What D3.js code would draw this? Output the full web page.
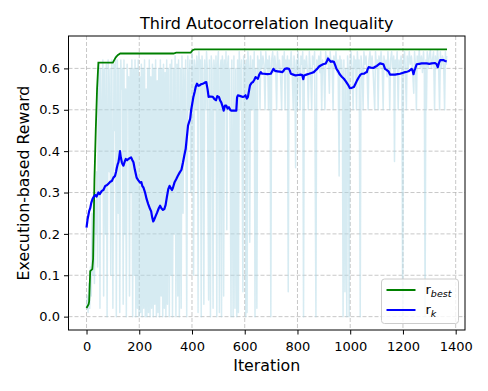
<!DOCTYPE html>
<html>
<head>
<meta charset="utf-8">
<script src="https://cdn.jsdelivr.net/npm/d3@7"></script>
<style>
body { margin: 0; background: #fff; }
text { font-family: "DejaVu Sans", sans-serif; }
</style>
</head>
<body>
<div id="chart"></div>
<script>
// tick labels
var xTicks = [0, 200, 400, 600, 800, 1000, 1200, 1400];
var yTicks = [0.0, 0.1, 0.2, 0.3, 0.4, 0.5, 0.6];

// r_best : best reward so far  [iteration, reward]
var bestReward = [[0,0.021],[8,0.03],[10,0.037],[14,0.11],[22,0.115],[25,0.14],[30,0.33],[35,0.45],[40,0.55],[45,0.614],
  [100,0.614],[105,0.62],[110,0.626],[118,0.632],[128,0.636],[330,0.636],[340,0.638],[395,0.638],[402,0.644],[410,0.646],[1367,0.646]];

// r_k : smoothed reward  [iteration, reward]
var smoothReward = [[0,0.215],[4,0.235],[7,0.245],[10,0.255],[14,0.262],[18,0.275],[23,0.285],[28,0.29],[33,0.294],[38,0.29],[45,0.30],[50,0.296],
  [58,0.304],[64,0.306],[71,0.316],[78,0.318],[84,0.322],[90,0.326],[96,0.328],[102,0.336],[108,0.34],[112,0.35],[115,0.36],[118,0.368],
  [121,0.373],[124,0.385],[127,0.40],[130,0.385],[134,0.373],[137,0.368],[140,0.365],[145,0.375],[149,0.381],[154,0.378],[159,0.381],
  [164,0.383],[169,0.385],[174,0.378],[178,0.373],[183,0.356],[187,0.345],[190,0.336],[196,0.33],[203,0.324],[208,0.325],[212,0.315],
  [216,0.312],[222,0.30],[228,0.284],[234,0.272],[241,0.26],[245,0.255],[249,0.24],[253,0.23],[257,0.235],[262,0.243],[268,0.252],
  [274,0.262],[279,0.268],[284,0.262],[290,0.258],[295,0.26],[300,0.27],[305,0.29],[310,0.308],[315,0.316],[320,0.31],[324,0.306],
  [328,0.312],[334,0.325],[340,0.332],[346,0.34],[353,0.348],[360,0.355],[366,0.373],[371,0.39],[376,0.405],[380,0.43],[385,0.462],
  [389,0.47],[393,0.478],[397,0.5],[401,0.515],[405,0.53],[410,0.543],[414,0.555],[419,0.563],[424,0.558],[429,0.559],[435,0.562],
  [441,0.563],[447,0.565],[454,0.567],[459,0.55],[463,0.531],[470,0.532],[479,0.531],[485,0.526],[491,0.523],[496,0.533],[502,0.531],
  [507,0.522],[511,0.518],[516,0.508],[520,0.498],[525,0.51],[530,0.51],[535,0.503],[540,0.506],[545,0.5],[549,0.498],[560,0.498],
  [568,0.498],[571,0.53],[574,0.535],[584,0.533],[593,0.531],[598,0.532],[603,0.535],[608,0.527],[612,0.531],[616,0.545],[620,0.559],
  [626,0.565],[631,0.567],[636,0.572],[641,0.579],[645,0.577],[650,0.575],[655,0.585],[661,0.591],[666,0.587],[673,0.587],[686,0.586],
  [699,0.587],[704,0.593],[709,0.599],[715,0.594],[724,0.593],[733,0.592],[743,0.591],[748,0.595],[752,0.599],[760,0.6],[768,0.599],
  [772,0.593],[775,0.587],[784,0.585],[793,0.583],[803,0.584],[812,0.585],[818,0.584],[822,0.574],[825,0.583],[834,0.585],[844,0.587],
  [853,0.589],[862,0.591],[868,0.595],[875,0.599],[881,0.604],[888,0.607],[897,0.61],[907,0.612],[912,0.618],[916,0.624],[921,0.62],
  [926,0.616],[932,0.617],[938,0.616],[943,0.608],[948,0.599],[955,0.592],[961,0.585],[968,0.58],[976,0.575],[982,0.57],[989,0.563],
  [994,0.558],[999,0.552],[1006,0.553],[1014,0.555],[1020,0.563],[1026,0.571],[1032,0.578],[1039,0.585],[1045,0.587],[1052,0.587],
  [1058,0.59],[1063,0.591],[1066,0.598],[1070,0.603],[1078,0.602],[1088,0.601],[1095,0.604],[1101,0.606],[1107,0.609],[1113,0.612],
  [1120,0.611],[1126,0.61],[1132,0.599],[1139,0.596],[1145,0.593],[1151,0.585],[1160,0.585],[1170,0.585],[1180,0.586],[1189,0.587],
  [1198,0.589],[1208,0.591],[1215,0.592],[1221,0.593],[1227,0.596],[1233,0.599],[1237,0.594],[1240,0.586],[1243,0.594],[1246,0.599],
  [1252,0.61],[1262,0.611],[1271,0.612],[1280,0.612],[1290,0.612],[1300,0.611],[1309,0.612],[1322,0.613],[1328,0.61],[1332,0.603],
  [1336,0.612],[1341,0.62],[1348,0.62],[1353,0.62],[1360,0.618],[1366,0.617]];

// raw reward per iteration (light blue)  [iteration, reward]
var rawReward = [[0,0.02],[3,0.05],[6,0.01],[9,0.08],[12,0.02],[15,0.12],[18,0.05],[21,0.25],[24,0.1],[27,0.3],[30,0.08],[33,0.28],
  [36,0.2],[39,0.35],[42,0.12],[45,0.6],
  [48,0.61],[51,0.02],[54,0.6],[58,0.3],[62,0.62],[65,0.05],[68,0.6],[72,0.2],[75,0.61],[78,0.0],[82,0.62],[86,0.35],[89,0.6],[92,0.1],
  [96,0.62],[100,0.02],[104,0.61],[107,0.45],[110,0.63],[113,0.0],[117,0.62],[120,0.25],[123,0.6],[126,0.01],[130,0.62],[133,0.55],
  [136,0.6],[139,0.03],[142,0.62],[145,0.2],[148,0.55],[151,0.0],[154,0.61],[157,0.5],[160,0.58],[163,0.05],[166,0.6],[169,0.3],
  [172,0.62],[175,0.0],[178,0.6],[181,0.1],[184,0.62],
  [187,0.0],[190,0.6],[193,0.02],[196,0.62],[199,0.0],[202,0.58],[205,0.01],[208,0.61],[211,0.0],[214,0.6],[217,0.02],[220,0.62],
  [223,0.0],[226,0.55],[229,0.0],[232,0.6],[235,0.01],[238,0.62],[241,0.0],[244,0.58],[247,0.02],[250,0.61],[253,0.0],[256,0.6],
  [259,0.03],[262,0.62],[265,0.0],[268,0.57],[271,0.01],[274,0.6],[277,0.0],[280,0.62],[283,0.05],[286,0.6],[289,0.0],[292,0.61],
  [295,0.02],[298,0.59],[301,0.0],[304,0.62],[307,0.03],[310,0.6],
  [314,0.0],[317,0.61],[320,0.1],[323,0.62],[326,0.0],[330,0.6],[333,0.2],[336,0.63],[339,0.0],[343,0.61],[346,0.05],[349,0.62],
  [352,0.0],[356,0.6],[359,0.02],[362,0.63],[366,0.25],[369,0.6],[372,0.4],[376,0.62],[380,0.0],[384,0.63],[388,0.5],[392,0.62],
  [396,0.3],[400,0.64],
  [403,0.6],[406,0.1],[409,0.62],[412,0.6],[415,0.5],[418,0.63],[421,0.61],[423,0.01],[426,0.64],[429,0.6],[432,0.62],[435,0.0],
  [438,0.63],[441,0.59],[445,0.03],[448,0.62],[452,0.5],[455,0.64],[458,0.6],[463,0.04],[466,0.62],[470,0.0],[473,0.63],[476,0.6],
  [480,0.02],[483,0.62],[486,0.59],[488,0.5],[491,0.63],[494,0.0],[497,0.61],[500,0.64],[504,0.01],[507,0.6],[510,0.62],[512,0.0],
  [515,0.63],[518,0.6],[520,0.05],[523,0.62],[526,0.5],[529,0.64],[532,0.21],[535,0.61],[538,0.63],[540,0.5],[543,0.6],[548,0.0],
  [551,0.62],[556,0.0],[559,0.63],[563,0.02],[566,0.6],[570,0.0],[573,0.62],[576,0.01],[579,0.64],[582,0.6],[585,0.5],[588,0.62],
  [593,0.06],[596,0.63],[600,0.5],[602,0.61],[604,0.0],[606,0.62],[609,0.01],[612,0.64],[616,0.6],[619,0.18],[622,0.63],[627,0.5],
  [630,0.62],[633,0.5],[636,0.64],[639,0.0],[642,0.6],[646,0.02],[649,0.63],[652,0.59],[655,0.62],[658,0.5],[661,0.64],[665,0.6],
  [669,0.63],[673,0.61],[677,0.5],[680,0.64],[684,0.6],[687,0.62],[690,0.5],[693,0.63],[696,0.6],[699,0.0],[702,0.62],[706,0.64],
  [710,0.59],[714,0.63],[717,0.61],[721,0.5],[724,0.64],[728,0.6],[732,0.62],[736,0.58],[740,0.5],[743,0.63],[747,0.6],[750,0.64],
  [753,0.5],[756,0.62],[760,0.6],[762,0.63],[765,0.06],[768,0.62],[772,0.6],[776,0.64],[780,0.59],[784,0.5],[787,0.63],[790,0.6],
  [793,0.36],[796,0.62],[799,0.5],[802,0.64],[806,0.6],[810,0.5],[813,0.63],[817,0.61],[820,0.64],[823,0.0],[826,0.62],[830,0.6],
  [834,0.63],[838,0.59],[841,0.5],[845,0.64],[849,0.6],[854,0.5],[857,0.63],[861,0.61],[865,0.64],[870,0.0],[873,0.62],[877,0.6],
  [881,0.63],[885,0.59],[888,0.64],[892,0.5],[895,0.62],[900,0.6],[904,0.5],[907,0.64],[911,0.61],[915,0.63],[918,0.6],[921,0.54],
  [924,0.64],[928,0.6],[931,0.62],[935,0.5],[938,0.63],[942,0.6],[946,0.64],[950,0.59],[954,0.62],[958,0.34],[961,0.63],[964,0.6],
  [967,0.62],[970,0.58],[973,0.0],[976,0.62],[980,0.06],[983,0.6],[987,0.0],[990,0.63],[993,0.59],[996,0.0],[999,0.61],[1003,0.64],
  [1007,0.6],[1011,0.5],[1014,0.63],[1018,0.6],[1021,0.62],[1024,0.5],[1027,0.64],[1031,0.6],[1034,0.62],[1038,0.0],[1041,0.63],
  [1045,0.6],[1049,0.5],[1052,0.64],[1056,0.61],[1060,0.63],[1064,0.59],[1068,0.5],[1071,0.62],[1075,0.64],[1079,0.6],[1083,0.63],
  [1087,0.59],[1093,0.5],[1096,0.64],[1100,0.6],[1103,0.62],[1106,0.5],[1109,0.63],[1113,0.6],[1117,0.64],[1121,0.61],[1125,0.5],
  [1128,0.63],[1132,0.6],[1136,0.62],[1140,0.58],[1143,0.64],[1147,0.6],[1150,0.5],[1153,0.62],[1157,0.64],[1161,0.6],[1165,0.63],
  [1168,0.375],[1171,0.62],[1175,0.6],[1178,0.64],[1182,0.5],[1185,0.62],[1189,0.6],[1193,0.63],[1196,0.59],[1199,0.0],[1202,0.62],
  [1206,0.64],[1209,0.6],[1213,0.5],[1216,0.63],[1220,0.6],[1224,0.64],[1228,0.61],[1232,0.63],[1236,0.6],[1241,0.54],[1244,0.64],
  [1248,0.6],[1251,0.5],[1254,0.63],[1258,0.61],[1262,0.645],[1266,0.6],[1270,0.63],[1274,0.59],[1278,0.64],[1281,0.6],[1284,0.0],
  [1287,0.62],[1289,0.5],[1292,0.64],[1296,0.6],[1300,0.63],[1304,0.645],[1308,0.6],[1312,0.62],[1316,0.64],[1320,0.5],[1323,0.63],
  [1327,0.6],[1331,0.645],[1335,0.61],[1339,0.5],[1342,0.64],[1346,0.6],[1350,0.63],[1354,0.62],[1358,0.5],[1361,0.64],[1364,0.61],
  [1366,0.63]];

var width = 488, height = 391;
var box = {left: 68.5, right: 465, top: 36, bottom: 330};

var svg = d3.select("#chart")
    .append("svg")
    .attr("width", width)
    .attr("height", height)
    .style("display", "block");

svg.append("rect").attr("width", width).attr("height", height).attr("fill", "#fff");

// matplotlib style 5% margins
var x = d3.scaleLinear()
    .domain([-68.35, 1435.35])
    .range([box.left, box.right]);

var y = d3.scaleLinear()
    .domain([-0.0323, 0.6783])
    .range([box.bottom, box.top]);

svg.append("clipPath").attr("id", "clip")
  .append("rect")
    .attr("x", box.left).attr("y", box.top)
    .attr("width", box.right - box.left).attr("height", box.bottom - box.top);

// grid
var grid = svg.append("g");
grid.selectAll("vgrid")
    .data(xTicks)
    .enter()
    .append("line")
    .attr("x1", function(d){ return x(d); })
    .attr("x2", function(d){ return x(d); })
    .attr("y1", box.top)
    .attr("y2", box.bottom)
    .attr("stroke", "#b0b0b0")
    .attr("stroke-opacity", 0.7)
    .attr("stroke-width", 1)
    .attr("stroke-dasharray", "4,2");
grid.selectAll("hgrid")
    .data(yTicks)
    .enter()
    .append("line")
    .attr("x1", box.left)
    .attr("x2", box.right)
    .attr("y1", function(d){ return y(d); })
    .attr("y2", function(d){ return y(d); })
    .attr("stroke", "#b0b0b0")
    .attr("stroke-opacity", 0.7)
    .attr("stroke-width", 1)
    .attr("stroke-dasharray", "4,2");

var line = d3.line()
    .x(function(d){ return x(d[0]); })
    .y(function(d){ return y(d[1]); });

var plot = svg.append("g").attr("clip-path", "url(#clip)");

plot.append("path")
    .datum(rawReward)
    .attr("d", line)
    .attr("fill", "none")
    .attr("stroke", "lightblue")
    .attr("stroke-opacity", 0.5)
    .attr("stroke-width", 1.5)
    .attr("stroke-linejoin", "round");

plot.append("path")
    .datum(bestReward)
    .attr("d", line)
    .attr("fill", "none")
    .attr("stroke", "green")
    .attr("stroke-width", 1.8);

plot.append("path")
    .datum(smoothReward)
    .attr("d", line)
    .attr("fill", "none")
    .attr("stroke", "blue")
    .attr("stroke-width", 2.2)
    .attr("stroke-linejoin", "round");

// axes
var xAxis = svg.append("g")
    .attr("transform", "translate(0," + box.bottom + ")")
    .call(d3.axisBottom(x).tickValues(xTicks).tickFormat(d3.format("d")).tickSize(4.5).tickPadding(7));
var yAxis = svg.append("g")
    .attr("transform", "translate(" + box.left + ",0)")
    .call(d3.axisLeft(y).tickValues(yTicks).tickFormat(d3.format(".1f")).tickSize(4.5).tickPadding(4));

[xAxis, yAxis].forEach(function(a) {
  a.select(".domain").remove();
  a.selectAll(".tick line").attr("stroke", "#000").attr("stroke-width", 1);
  a.selectAll(".tick text")
    .attr("fill", "#000")
    .style("font-size", "13px")
    .style("font-family", "DejaVu Sans, sans-serif");
});

// spines
svg.append("rect")
    .attr("x", box.left).attr("y", box.top)
    .attr("width", box.right - box.left).attr("height", box.bottom - box.top)
    .attr("fill", "none")
    .attr("stroke", "#000")
    .attr("stroke-width", 1);

// labels
svg.append("text")
    .attr("x", (box.left + box.right) / 2)
    .attr("y", 28.5)
    .style("text-anchor", "middle")
    .style("font-size", "16px")
    .text("Third Autocorrelation Inequality");

svg.append("text")
    .attr("x", (box.left + box.right) / 2)
    .attr("y", 371)
    .style("text-anchor", "middle")
    .style("font-size", "15.8px")
    .text("Iteration");

svg.append("text")
    .attr("transform", "translate(29," + (box.top + box.bottom) / 2 + ") rotate(-90)")
    .style("text-anchor", "middle")
    .style("font-size", "15.8px")
    .text("Execution-based Reward");

// legend
var legendItems = [
  {color: "green", sub: "best"},
  {color: "blue", sub: "k"}
];
var legend = svg.append("g").attr("transform", "translate(381.5,279)");
legend.append("rect")
    .attr("x", 0).attr("y", 0)
    .attr("width", 77).attr("height", 44.5)
    .attr("rx", 3)
    .attr("fill", "#fff")
    .attr("fill-opacity", 0.8)
    .attr("stroke", "#cccccc")
    .attr("stroke-width", 1);

var li = legend.selectAll("item")
    .data(legendItems)
    .enter()
    .append("g")
    .attr("transform", function(d, i){ return "translate(0," + (11 + i * 20) + ")"; });
li.append("line")
    .attr("x1", 5).attr("x2", 34)
    .attr("stroke", function(d){ return d.color; })
    .attr("stroke-width", 2);
var lt = li.append("text")
    .attr("x", 44)
    .attr("y", 3.5)
    .style("font-size", "13px");
lt.append("tspan").text("r");
lt.append("tspan")
    .attr("dy", 3.5)
    .style("font-size", "9.5px")
    .style("font-style", "italic")
    .text(function(d){ return d.sub; });
</script>
</body>
</html>
